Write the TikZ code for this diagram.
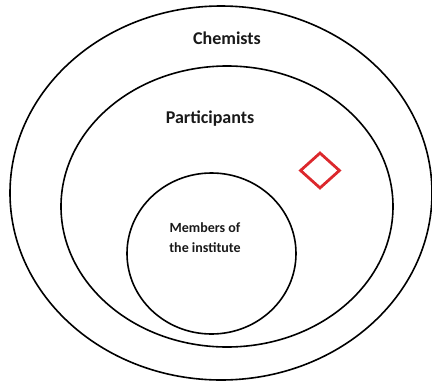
\documentclass[tikz,border=0pt]{standalone}
\usepackage{fontspec}
\setmainfont{Carlito}
\usetikzlibrary{shapes.geometric}
\begin{document}
\begin{tikzpicture}[x=1pt,y=-1pt,
  setring/.style={draw=black,line width=1.6pt,ellipse,inner sep=0pt},
  lbl/.style={text=black!90,inner sep=0pt,align=center},
  reddiamond/.style={draw={rgb,255:red,220;green,40;blue,45},line width=2.8pt,diamond,inner sep=0pt}]
\useasboundingbox (0,0) rectangle (432,381);
\node[setring,minimum width=422pt,minimum height=374pt] (chem) at (221,193) {};
\node[setring,minimum width=332pt,minimum height=281pt] (part) at (227,206.5) {};
\node[setring,minimum width=169pt,minimum height=161pt] (memb) at (211.5,253.5) {};
\node[reddiamond,minimum width=40pt,minimum height=36pt] (dia) at (320,170.5) {};
\node[lbl,font=\bfseries\fontsize{18}{20}\selectfont] (tchem) at (227,38) {Chemists};
\node[lbl,font=\bfseries\fontsize{18}{20}\selectfont] (tpart) at (210,119) {Participants};
\node[lbl,font=\bfseries\fontsize{14}{19.5}\selectfont] (tmemb) at (205,237.5) {Members of\\the institute};
\end{tikzpicture}
\end{document}
